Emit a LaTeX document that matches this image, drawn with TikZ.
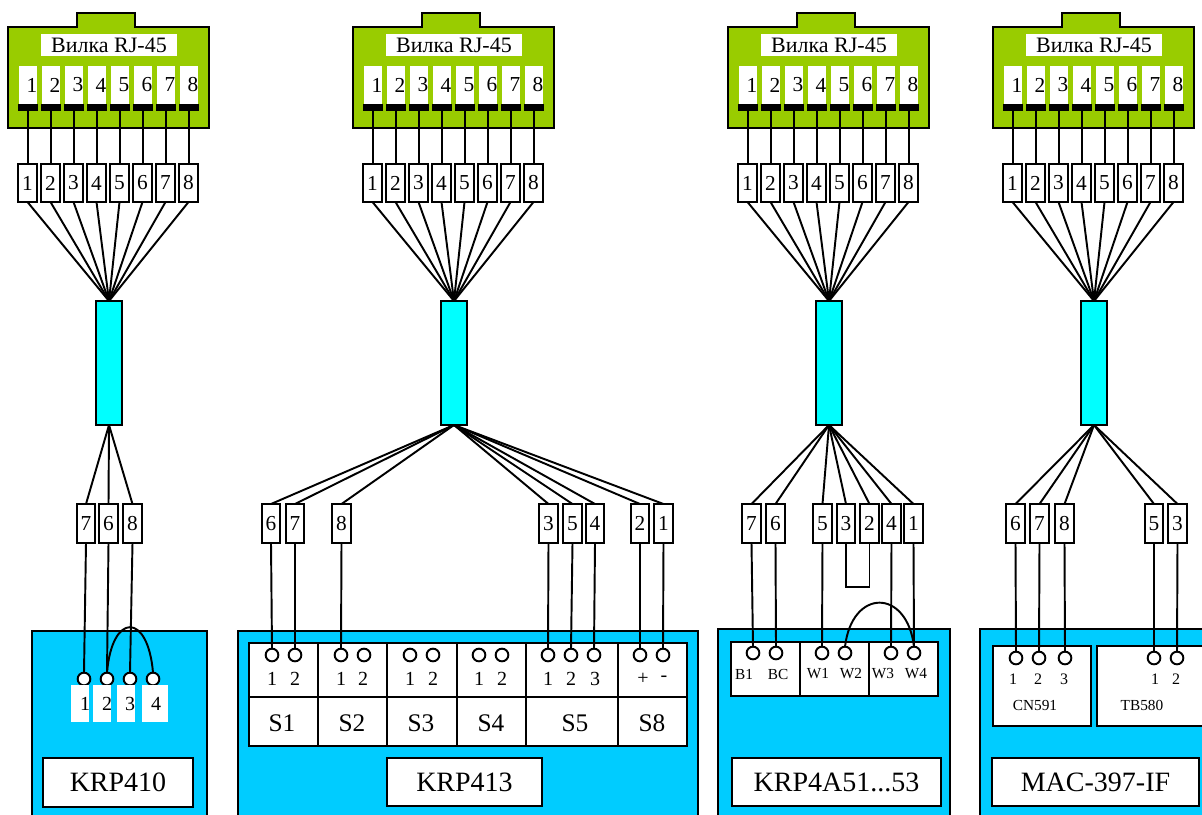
\documentclass[tikz,border=0pt]{standalone}
\usepackage{fontspec}
\setmainfont{Liberation Serif}
\definecolor{plugc}{HTML}{99CC00}
\definecolor{cablec}{HTML}{00FFFF}
\definecolor{bodyc}{HTML}{00CCFF}
\newcommand\fs[1]{\fontsize{#1}{#1}\selectfont}
\tikzset{
  base/.style={inner sep=0pt,outer sep=0pt,rectangle},
  wire/.style={draw=black,line width=1.45pt},
  framed/.style={base,draw=black,line width=1.45pt,fill=white},
  numbox/.style={framed,font=\fs{16}},
  whitepin/.style={base,fill=white},
  blackbar/.style={base,fill=black},
  plain/.style={base,font=\fs{16}},
  plaintitle/.style={base,fill=white,font=\fs{16.5}},
  cable/.style={framed,fill=cablec},
  body/.style={framed,fill=bodyc},
  title/.style={framed,font=\fs{21}},
  cell/.style={framed},
  sname/.style={framed,font=\fs{19}},
  term/.style={circle,draw=black,fill=white,line width=1.45pt,minimum size=9.5pt,inner sep=0pt,outer sep=0pt},
  tnum/.style={base,font=\fs{15}},
  snum/.style={base,font=\fs{12}},
  small/.style={base,font=\fs{11.5}},
}
\newcommand\rn[7]{\node[#1,minimum width={(#5-(#3))*0.75pt},minimum height={(#6-(#4))*0.75pt}] (#2) at ({(#3+#5)/2},{(#4+#6)/2}) {#7};}
% plug, its numbered boxes, wires and cable: #1 id, #2 x offset
\newcommand\plug[2]{
  \draw[wire,fill=plugc] ({#2+8},27) -- ({#2+77},27) -- ({#2+77},13) -- ({#2+135},13) -- ({#2+135},27) -- ({#2+209},27) -- ({#2+209},128) -- ({#2+8},128) -- cycle;
  \rn{plaintitle}{#1title}{#2+41}{34}{#2+177}{56}{Вилка RJ-45}
  \rn{cable}{#1cable}{#2+96}{301}{#2+122}{425}{}
  \foreach \i in {1,...,8}{
    \pgfmathsetmacro\xx{#2+28+(\i-1)*23}
    \rn{whitepin}{#1pin\i}{\xx-9}{66}{\xx+9}{104}{}
    \rn{blackbar}{#1bar\i}{\xx-10}{104}{\xx+10}{111}{}
    \node[plain] (#1pn\i) at (\xx+4,85) {\i};
    \rn{numbox}{#1box\i}{\xx-10}{164}{\xx+9}{202}{\i}
    \draw[wire] (#1bar\i.south) -- ($(#1box\i.north)+(0.5,0)$);
    \draw[wire] (#1box\i.south) -- (#1cable.north);
  }
}
\newcommand\lowbox[4]{% id, number, x0, x1
  \rn{numbox}{#1low#2}{#3}{504}{#4}{543}{#2}
}
\usetikzlibrary{calc}
\begin{document}
\begin{tikzpicture}[x=0.75pt,y=-0.75pt]
\clip (0,0) rectangle (1202,814);
\fill[white] (0,0) rectangle (1202,814);
\plug{a}{0}
\plug{b}{345}
\plug{c}{720}
\plug{d}{985}

% ---- KRP410
\rn{body}{abody}{32}{631}{207}{830}{}
\rn{title}{atitle}{43}{758}{193}{807}{KRP410}
\foreach \n/\x in {1/84,2/107,3/130,4/153}{\node[term] (aterm\n) at (\x,679) {};}
\rn{whitepin}{al1}{71}{685}{89}{722}{}
\rn{whitepin}{al2}{93}{685}{111}{722}{}
\rn{whitepin}{al3}{117}{685}{135}{722}{}
\rn{whitepin}{al4}{142}{685}{168}{722}{}
\foreach \n/\x in {1/85,2/107,3/130,4/156}{\node[tnum] (aln\n) at (\x,704) {\n};}
\lowbox{a}{7}{77}{95}
\lowbox{a}{6}{99}{118}
\lowbox{a}{8}{123}{142}
\foreach \n in {7,6,8}{\draw[wire] (acable.south) -- (alow\n.north);}
\draw[wire] (alow7.south) -- (aterm1.north);
\draw[wire] (alow6.south) -- (aterm2.north);
\draw[wire] (alow8.south) -- (aterm3.north);
\draw[wire] (aterm2.north) .. controls (112,612) and (148,612) .. (aterm4.north);

% ---- KRP413
\rn{body}{bbody}{238}{631}{698}{830}{}
\foreach \nm/\xa/\xb/\lab/\lx in {S1/249/318/S1/282,S2/318/387/S2/352,S3/387/457/S3/421,S4/457/526/S4/491,S5/526/618/S5/575,S8/618/687/S8/652}{
  \rn{cell}{bcell\nm}{\xa}{643}{\xb}{697}{}
  \rn{cell}{bname\nm}{\xa}{697}{\xb}{746}{}
  \node[sname,draw=none,fill=none] (blab\nm) at (\lx,723) {\lab};
}
\rn{title}{btitle}{387}{758}{542}{806}{KRP413}
\foreach \k/\x/\lab/\lx in {a/272/1/272,b/295/2/295,c/341/1/341,d/364/2/363,e/410/1/410,f/433/2/433,g/479/1/479,h/502/2/502,i/548/1/548,j/571/2/571,k/594/3/595,l/640/+/643,m/663/-/664}{
  \node[term] (bterm\k) at (\x,655) {};
  \node[tnum] (bnum\k) at (\lx,679) {\lab};
}
\lowbox{b}{6}{262}{280}
\lowbox{b}{7}{286}{304}
\lowbox{b}{8}{332}{351}
\lowbox{b}{3}{539}{558}
\lowbox{b}{5}{563}{582}
\lowbox{b}{4}{586}{604}
\lowbox{b}{2}{631}{649}
\lowbox{b}{1}{654}{673}
\foreach \n/\t in {6/a,7/b,8/c,3/i,5/j,4/k,2/l,1/m}{
  \draw[wire] (bcable.south) -- (blow\n.north);
  \draw[wire] (blow\n.south) -- (bterm\t.north);
}

% ---- KRP4A51...53
\rn{body}{cbody}{718}{629}{950}{830}{}
\rn{cell}{ccell1}{731}{642}{800}{696}{}
\rn{cell}{ccell2}{800}{642}{869}{696}{}
\rn{cell}{ccell3}{869}{642}{938}{696}{}
\rn{title}{ctitle}{732}{758}{941}{806}{KRP4A51...53}
\foreach \k/\x/\lab/\lx in {a/753/B1/744,b/776/BC/778,c/822/W1/818,d/845/W2/851,e/891/W3/883,f/914/W4/916}{
  \node[term] (cterm\k) at (\x,653) {};
  \node[small] (cnum\k) at (\lx,674) {\lab};
}
\lowbox{c}{7}{742}{761}
\lowbox{c}{6}{766}{785}
\lowbox{c}{5}{813}{832}
\lowbox{c}{3}{837}{855}
\lowbox{c}{2}{860}{879}
\lowbox{c}{4}{882}{901}
\lowbox{c}{1}{904}{923}
\foreach \n in {7,6,5,3,2,4,1}{\draw[wire] (ccable.south) -- (clow\n.north);}
\foreach \n/\t in {7/a,6/b,5/c,4/e,1/f}{\draw[wire] (clow\n.south) -- (cterm\t.north);}
\coordinate (cu1) at (clow3.south |- 0,587);
\coordinate (cu2) at (clow2.south |- 0,587);
\draw[wire] (clow3.south) -- (cu1) -- (cu2) -- (clow2.south);
\draw[wire] (ctermd.north) .. controls (852,588) and (907,588) .. (ctermf.north);

% ---- MAC-397-IF
\rn{body}{dbody}{980}{629}{1230}{830}{}
\rn{cell}{dcell1}{993}{646}{1091}{726}{}
\rn{cell}{dcell2}{1097}{646}{1230}{726}{}
\rn{title}{dtitle}{992}{758}{1199}{806}{MAC-397-IF}
\foreach \k/\x/\lab/\lx in {a/1016/1/1013,b/1039/2/1038,c/1065/3/1064,d/1154/1/1155,e/1177/2/1176}{
  \node[term] (dterm\k) at (\x,658) {};
  \node[snum] (dnum\k) at (\lx,679) {\lab};
}
\node[small] (dlabcn) at (1035,705) {CN591};
\node[small] (dlabtb) at (1142,705) {TB580};
\lowbox{d}{6}{1006}{1025}
\lowbox{d}{7}{1030}{1049}
\lowbox{d}{8}{1055}{1074}
\lowbox{d}{5}{1145}{1163}
\lowbox{d}{3}{1168}{1187}
\foreach \n/\t in {6/a,7/b,8/c,5/d,3/e}{
  \draw[wire] (dcable.south) -- (dlow\n.north);
  \draw[wire] (dlow\n.south) -- (dterm\t.north);
}
\end{tikzpicture}
\end{document}
